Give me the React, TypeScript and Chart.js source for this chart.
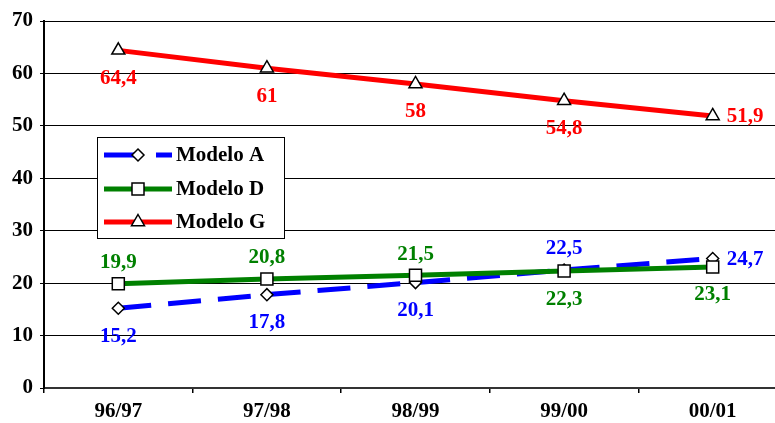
import React, { useEffect, useRef } from 'react';
import { Chart, registerables } from 'chart.js';

Chart.register(...registerables);

const categories = ['96/97', '97/98', '98/99', '99/00', '00/01'];
const modeloA = [15.2, 17.8, 20.1, 22.5, 24.7];
const modeloD = [19.9, 20.8, 21.5, 22.3, 23.1];
const modeloG = [64.4, 61, 58, 54.8, 51.9];
const seriesNames = ['Modelo A', 'Modelo D', 'Modelo G'];
const yMin = 0;
const yMax = 70;
const yStep = 10;

const labelPosA = ['below', 'below', 'below', 'above', 'right'];
const labelPosD = ['above', 'above', 'above', 'below', 'below'];
const labelPosG = ['below', 'below', 'below', 'below', 'right'];

const FONT = '"Liberation Serif", "Times New Roman", serif';
const BLUE = '#0000ff';
const GREEN = '#008000';
const RED = '#ff0000';

const fmt = (v: number) => String(v).replace('.', ',');

function drawMarker(ctx: CanvasRenderingContext2D, style: string, x: number, y: number) {
  ctx.save();
  ctx.setLineDash([]);
  ctx.fillStyle = '#fff';
  ctx.strokeStyle = '#000';
  ctx.lineWidth = 1.5;
  ctx.beginPath();
  if (style === 'rectRot') {
    const r = 6;
    ctx.moveTo(x, y - r);
    ctx.lineTo(x + r, y);
    ctx.lineTo(x, y + r);
    ctx.lineTo(x - r, y);
    ctx.closePath();
  } else if (style === 'rect') {
    const s = 6;
    ctx.rect(x - s, y - s, 2 * s, 2 * s);
  } else {
    const r = 7.5;
    ctx.moveTo(x, y - r);
    ctx.lineTo(x + r * 0.866, y + r * 0.5);
    ctx.lineTo(x - r * 0.866, y + r * 0.5);
    ctx.closePath();
  }
  ctx.fill();
  ctx.stroke();
  ctx.restore();
}

const dataLabelPlugin = {
  id: 'dataLabels',
  afterDatasetsDraw(chart: any) {
    const ctx = chart.ctx as CanvasRenderingContext2D;
    const positions = [labelPosA, labelPosD, labelPosG];
    const colors = [BLUE, GREEN, RED];
    chart.data.datasets.forEach((ds: any, i: number) => {
      const meta = chart.getDatasetMeta(i);
      meta.data.forEach((pt: any, j: number) => {
        const pos = positions[i][j];
        const text = fmt(ds.data[j]);
        ctx.save();
        ctx.font = `bold 21px ${FONT}`;
        ctx.fillStyle = colors[i];
        ctx.textBaseline = 'middle';
        let x = pt.x;
        let y = pt.y;
        if (pos === 'above') {
          ctx.textAlign = 'center';
          y -= 21;
        } else if (pos === 'below') {
          ctx.textAlign = 'center';
          y += 28;
        } else {
          ctx.textAlign = 'left';
          x += 14;
          y += 1;
        }
        ctx.fillText(text, x, y);
        ctx.restore();
      });
    });
  },
};

const legendPlugin = {
  id: 'customLegend',
  afterDraw(chart: any) {
    const ctx = chart.ctx as CanvasRenderingContext2D;
    const bx = 97;
    const by = 137;
    const bw = 187;
    const bh = 101;
    ctx.save();
    ctx.fillStyle = '#fff';
    ctx.fillRect(bx, by, bw, bh);
    ctx.strokeStyle = '#000';
    ctx.lineWidth = 1;
    ctx.strokeRect(bx + 0.5, by + 0.5, bw, bh);
    const rows = [155, 189, 222];
    const colors = [BLUE, GREEN, RED];
    const styles = ['rectRot', 'rect', 'triangle'];
    const dashes = [[30, 22], [], []];
    seriesNames.forEach((name, i) => {
      const y = rows[i];
      ctx.save();
      ctx.strokeStyle = colors[i];
      ctx.lineWidth = 5;
      ctx.lineCap = 'butt';
      ctx.setLineDash(dashes[i]);
      ctx.beginPath();
      ctx.moveTo(104, y);
      ctx.lineTo(172, y);
      ctx.stroke();
      ctx.restore();
      drawMarker(ctx, styles[i], 138, y);
      ctx.fillStyle = '#000';
      ctx.font = `bold 21px ${FONT}`;
      ctx.textAlign = 'left';
      ctx.textBaseline = 'middle';
      ctx.fillText(name, 176, y + 1);
    });
    ctx.restore();
  },
};

export default function App() {
  const ref = useRef<HTMLCanvasElement | null>(null);

  useEffect(() => {
    if (!ref.current) return;
    const chart = new Chart(ref.current, {
      type: 'line',
      data: {
        labels: categories,
        datasets: [
          {
            label: seriesNames[0],
            data: modeloA,
            borderColor: BLUE,
            borderWidth: 5,
            borderDash: [33, 17],
            pointStyle: 'rectRot',
            pointRadius: 6,
            pointBackgroundColor: '#fff',
            pointBorderColor: '#000',
            pointBorderWidth: 1.5,
            fill: false,
            tension: 0,
            order: 2,
          },
          {
            label: seriesNames[1],
            data: modeloD,
            borderColor: GREEN,
            borderWidth: 5,
            pointStyle: 'rect',
            pointRadius: 8.5,
            pointBackgroundColor: '#fff',
            pointBorderColor: '#000',
            pointBorderWidth: 1.5,
            fill: false,
            tension: 0,
            order: 1,
          },
          {
            label: seriesNames[2],
            data: modeloG,
            borderColor: RED,
            borderWidth: 5,
            pointStyle: 'triangle',
            pointRadius: 7.5,
            pointBackgroundColor: '#fff',
            pointBorderColor: '#000',
            pointBorderWidth: 1.5,
            fill: false,
            tension: 0,
            order: 0,
          },
        ],
      },
      options: {
        responsive: false,
        animation: false,
        devicePixelRatio: 1,
        layout: { padding: { left: 0, right: 6, top: 21, bottom: 0 } },
        plugins: {
          legend: { display: false },
          tooltip: { enabled: false },
        },
        scales: {
          x: {
            type: 'category',
            offset: true,
            grid: {
              offset: true,
              drawOnChartArea: false,
              drawTicks: true,
              tickLength: 5,
              tickColor: '#000',
              lineWidth: 1.5,
            },
            border: { display: true, color: '#333', width: 2 },
            ticks: {
              color: '#000',
              padding: 6,
              font: { family: FONT, size: 21, weight: 'bold' },
              maxRotation: 0,
              autoSkip: false,
            },
            afterFit: (scale: any) => {
              scale.height = 35;
            },
          },
          y: {
            min: yMin,
            max: yMax,
            grid: {
              color: '#000',
              lineWidth: 1,
              tickLength: 4,
              tickColor: '#000',
            },
            border: { display: true, color: '#000', width: 2 },
            ticks: {
              stepSize: yStep,
              color: '#000',
              padding: 7,
              font: { family: FONT, size: 21, weight: 'bold' },
            },
            afterFit: (scale: any) => {
              scale.width = 44;
            },
          },
        },
      },
      plugins: [dataLabelPlugin, legendPlugin],
    } as any);
    return () => chart.destroy();
  }, []);

  return (
    <div
      style={{
        position: 'fixed',
        left: 0,
        top: 0,
        width: 775,
        height: 423,
        overflow: 'hidden',
        background: '#fff',
      }}
    >
      <canvas ref={ref} width={797} height={423} style={{ width: 797, height: 423, display: 'block' }} />
    </div>
  );
}
